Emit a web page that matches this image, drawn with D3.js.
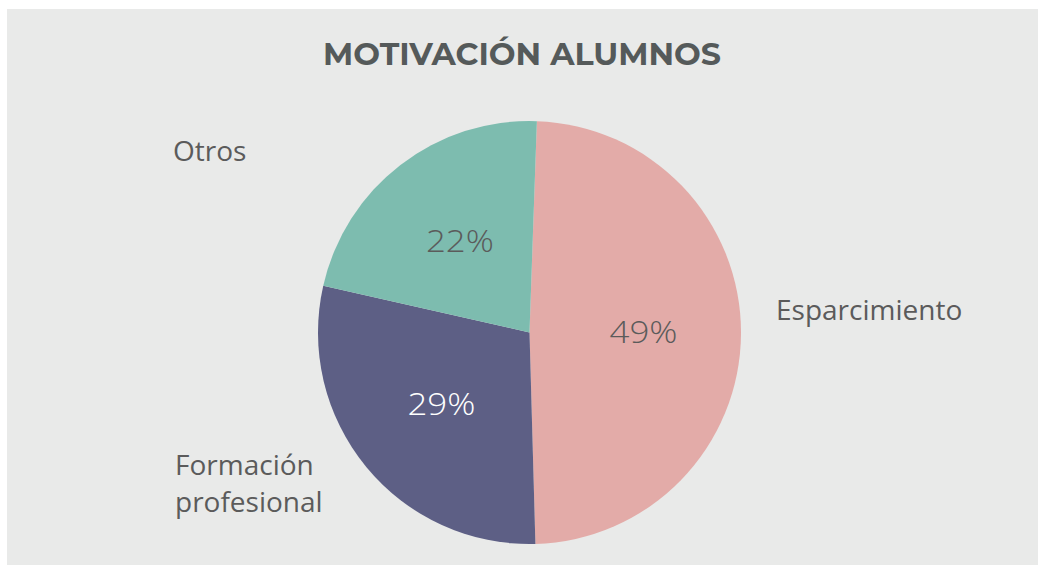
<!DOCTYPE html>
<html>
<head>
<meta charset="utf-8">
<script src="https://cdn.jsdelivr.net/npm/d3@7"></script>
<style>
  html, body { margin: 0; padding: 0; background: #ffffff; }
  svg { display: block; }
</style>
</head>
<body>
<script>
// ---- data ----
const categories = ["Esparcimiento", "Formación profesional", "Otros"];
const values = [49, 29, 22];
const percentLabels = ["49%", "29%", "22%"];
const title = "MOTIVACIÓN ALUMNOS";

// ---- layout / style ----
const W = 1038, H = 566;
const colors = ["#e3aba8", "#5d5f85", "#7dbcaf"];
const pctColors = ["#5b5b5b", "#ffffff", "#5b5b5b"];
const cx = 529.5, cy = 332.5, R = 211.5;
const startDeg = 2;
const labelPos = [
  { x: 776, y: 320, anchor: "start", lines: ["Esparcimiento"] },
  { x: 175, y: 475, anchor: "start", lines: ["Formación", "profesional"] },
  { x: 173, y: 161, anchor: "start", lines: ["Otros"] }
];

const svg = d3.select("body").append("svg").attr("width", W).attr("height", H);

svg.append("rect").attr("x", 7).attr("y", 9).attr("width", W - 7).attr("height", 556)
  .attr("fill", "#e9eae9");

svg.append("text")
  .attr("x", 522).attr("y", 65)
  .attr("text-anchor", "middle")
  .attr("font-family", "'Montserrat', 'DejaVu Sans', sans-serif")
  .attr("font-weight", "bold")
  .attr("font-size", 30)
  .attr("fill", "#555a5a")
  .attr("textLength", 398)
  .attr("lengthAdjust", "spacingAndGlyphs")
  .text(title);

const start = startDeg * Math.PI / 180;
const pie = d3.pie().sort(null).value(d => d)
  .startAngle(start).endAngle(start + 2 * Math.PI);
const arcs = pie(values);
const arc = d3.arc().innerRadius(0).outerRadius(R);
const labelArc = d3.arc().innerRadius(114).outerRadius(114);

const g = svg.append("g").attr("transform", `translate(${cx},${cy})`);
g.selectAll("path.slice").data(arcs).join("path")
  .attr("class", "slice")
  .attr("d", arc)
  .attr("fill", (d, i) => colors[i]);

g.selectAll("text.pct").data(arcs).join("text")
  .attr("class", "pct")
  .attr("transform", d => { const c = labelArc.centroid(d); return `translate(${c[0] - 34},${c[1]})`; })
  .attr("text-anchor", "start")
  .attr("dy", "0.33em")
  .attr("font-family", "'Open Sans', sans-serif")
  .attr("font-weight", 300)
  .attr("font-size", 31)
  .attr("textLength", 68)
  .attr("lengthAdjust", "spacingAndGlyphs")
  .attr("fill", (d, i) => pctColors[i])
  .text((d, i) => percentLabels[i]);

labelPos.forEach((p, i) => {
  const t = svg.append("text")
    .attr("x", p.x).attr("y", p.y)
    .attr("text-anchor", p.anchor)
    .attr("font-family", "'Open Sans', sans-serif")
    .attr("font-size", 28)
    .attr("fill", "#5b5b5b");
  p.lines.forEach((ln, j) => {
    t.append("tspan").attr("x", p.x).attr("dy", j === 0 ? 0 : 37).text(ln);
  });
});
</script>
</body>
</html>
